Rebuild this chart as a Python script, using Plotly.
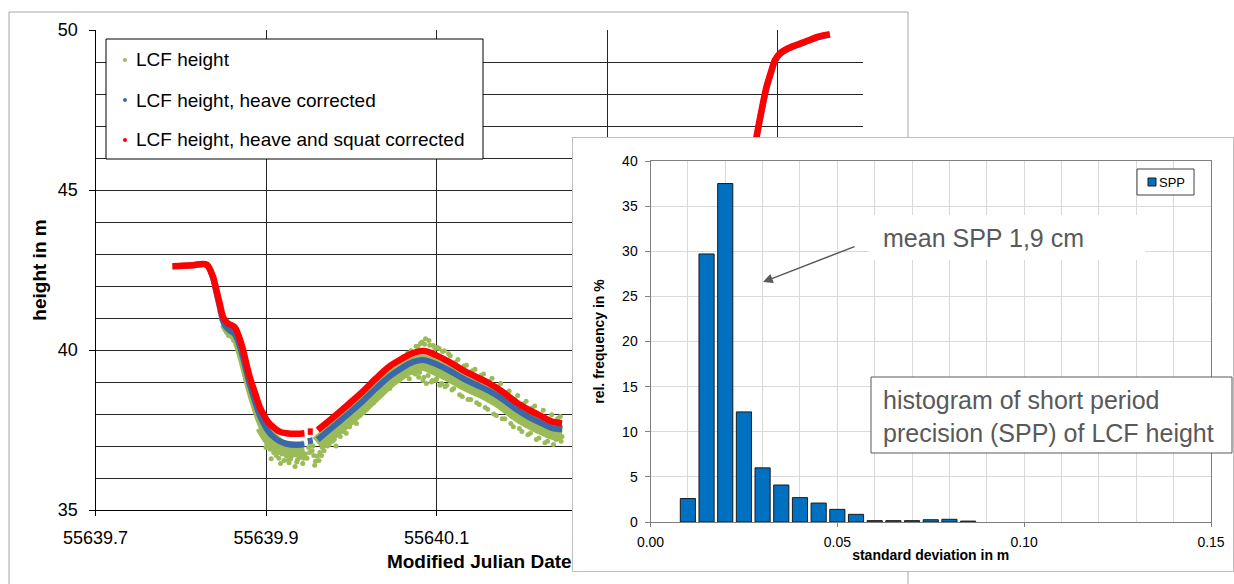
import plotly.graph_objects as go

FONT = "Arial, 'Liberation Sans', sans-serif"
W, H = 1234, 584

# ---------------- main chart data (Modified Julian Date / height in m) ----------------
mjd_corr = [55639.7903, 55639.8027, 55639.8144, 55639.8261, 55639.8308, 55639.8378, 55639.8417,
            55639.8456, 55639.8503, 55639.8554, 55639.8632, 55639.8682, 55639.8721, 55639.8768,
            55639.8807, 55639.8846, 55639.8885, 55639.8924, 55639.8963, 55639.9021, 55639.9080,
            55639.9158, 55639.9236, 55639.9353, 55639.9450, None, 55639.9489, 55639.9548, None,
            55639.9606, 55639.9704, 55639.9821, 55639.9977, 55640.0133, 55640.0289, 55640.0444,
            55640.0600, 55640.0717, 55640.0834, 55640.0892, 55640.0991, 55640.1146, 55640.1302,
            55640.1458, 55640.1614, 55640.1770, 55640.1926, 55640.2082, 55640.2237, 55640.2354,
            55640.2471, None, 55640.4700, 55640.4752, 55640.4811, 55640.4869, 55640.4928,
            55640.4967, 55640.5026, 55640.5123, 55640.5318, 55640.5474, 55640.5611]

h_heave_squat = [42.62, 42.63, 42.65, 42.69, 42.66, 42.29, 41.88, 41.46, 40.99, 40.83, 40.71, 40.42,
                 40.10, 39.58, 39.17, 38.85, 38.54, 38.23, 38.02, 37.76, 37.60, 37.45, 37.40, 37.38,
                 37.40, None, 37.45, 37.45, None, 37.50, 37.71, 37.97, 38.33, 38.70, 39.11, 39.48,
                 39.74, 39.90, 39.97, 39.95, 39.84, 39.63, 39.38, 39.17, 38.96, 38.70, 38.38, 38.13,
                 37.92, 37.76, 37.71, None, 45.90, 46.67, 47.50, 48.23, 48.75, 49.06, 49.27, 49.43,
                 49.63, 49.79, 49.87]

h_heave = [42.62, 42.63, 42.65, 42.69, 42.66, 42.25, 41.80, 41.35, 40.85, 40.65, 40.50, 40.20,
           39.85, 39.35, 38.95, 38.60, 38.28, 37.97, 37.75, 37.48, 37.30, 37.15, 37.07, 37.03,
           37.05, None, 37.15, 37.18, None, 37.20, 37.42, 37.68, 38.03, 38.40, 38.80, 39.17,
           39.45, 39.62, 39.69, 39.66, 39.56, 39.36, 39.12, 38.92, 38.72, 38.47, 38.16, 37.90,
           37.70, 37.56, 37.52, None, 45.85, 46.62, 47.45, 48.18, 48.70, 49.02, 49.24, 49.41,
           49.61, 49.77, 49.85]

# raw LCF height: dense core of the point cloud (descent, narrow)
mjd_raw_desc = [55639.8503, 55639.8554, 55639.8632, 55639.8682, 55639.8721, 55639.8768, 55639.8807,
                55639.8846, 55639.8885, 55639.8924, 55639.8963, 55639.9021]
h_raw_desc = [40.80, 40.58, 40.40, 40.05, 39.70, 39.20, 38.80, 38.45, 38.12, 37.82, 37.58, 37.30]

# raw LCF height: dense core of the point cloud (trough, rise, crest, fall)
mjd_raw_core = [55639.8963, 55639.9021, 55639.9080, 55639.9158, 55639.9236, 55639.9353,
                55639.9450, None, 55639.9606, 55639.9704, 55639.9821, 55639.9977, 55640.0133,
                55640.0289, 55640.0444, 55640.0600, 55640.0717, 55640.0834, 55640.0892,
                55640.0991, 55640.1146, 55640.1302, 55640.1458, 55640.1614, 55640.1770,
                55640.1926, 55640.2082, 55640.2237, 55640.2354, 55640.2471]
h_raw_core = [37.62, 37.36, 37.15, 36.99, 36.92, 36.90, 36.92, None, 37.07, 37.29, 37.55, 37.90,
              38.27, 38.67, 39.05, 39.35, 39.52, 39.60, 39.57, 39.45, 39.25, 39.02, 38.82, 38.62,
              38.37, 38.05, 37.79, 37.59, 37.45, 37.39]

# raw LCF height: scattered points of the cloud
mjd_raw_pts = [55639.8420, 55639.8460, 55639.8480, 55639.8510, 55639.8540, 55639.8570, 55639.8600,
               55639.8620, 55639.8650, 55639.8680, 55639.8700, 55639.8720, 55639.8745, 55639.8770,
               55639.8790, 55639.8810, 55639.8830, 55639.8500, 55639.8560, 55639.8660, 55639.8760,
               55639.8800, 55639.8850,
               55639.8950, 55639.8990, 55639.9010, 55639.9050, 55639.9090, 55639.9120, 55639.9150,
               55639.9190, 55639.9210, 55639.9240, 55639.9270, 55639.9290, 55639.9320, 55639.9340,
               55639.9370, 55639.9400, 55639.9420, 55639.9440, 55639.9460, 55639.9500, 55639.9520,
               55639.9540, 55639.9560, 55639.9580, 55639.9600, 55639.9630, 55639.9660, 55639.9690,
               55639.9720, 55639.9760, 55639.9800, 55639.9850, 55639.9880, 55639.9920, 55639.9960,
               55640.0000, 55640.0040, 55640.0080, 55640.0120, 55640.0160, 55640.0200, 55640.0240,
               55640.0280, 55640.0320, 55640.0360, 55640.0400, 55640.0450, 55640.0480, 55640.0520,
               55640.0560, 55640.0600, 55640.0650,
               55640.0700, 55640.0750, 55640.0780, 55640.0800, 55640.0830, 55640.0850, 55640.0870,
               55640.0900, 55640.0920, 55640.0950, 55640.0980, 55640.1000, 55640.1030, 55640.1060,
               55640.1090,
               55640.1120, 55640.1160, 55640.1200, 55640.1250, 55640.1300, 55640.1350, 55640.1400,
               55640.1450, 55640.1500, 55640.1550, 55640.1600, 55640.1650, 55640.1700, 55640.1750,
               55640.1800, 55640.1850, 55640.1900, 55640.1950, 55640.2000, 55640.2050, 55640.2100,
               55640.2150, 55640.2200, 55640.2250, 55640.2300, 55640.2350, 55640.2400, 55640.2450,
               55640.2470,
               55639.8980, 55639.9000, 55639.9030, 55639.9060, 55639.9100, 55639.9130, 55639.9170,
               55639.9200, 55639.9230, 55639.9260, 55639.9310, 55639.9360, 55639.9390, 55639.9430,
               55639.9480, 55639.9510, 55639.9550, 55639.9570, 55639.9620, 55639.9650, 55639.9680,
               55639.9700, 55639.9740, 55639.9780, 55639.9820, 55639.9870, 55639.9900, 55639.9940,
               55639.9980, 55640.0020, 55640.0060, 55640.0100, 55640.0140, 55640.0180, 55640.0220,
               55640.0260, 55640.0300, 55640.0340, 55640.0380, 55640.0420, 55640.0460, 55640.0500,
               55640.0540, 55640.0580, 55640.0620, 55640.0660, 55640.0680, 55640.0720, 55640.0760,
               55640.0790, 55640.0810, 55640.0840, 55640.0860, 55640.0880, 55640.0910, 55640.0940,
               55640.0960, 55640.0990, 55640.1010, 55640.1040, 55640.1070, 55640.1100, 55640.1140,
               55640.1180, 55640.1220, 55640.1270, 55640.1320, 55640.1370, 55640.1420, 55640.1470,
               55640.1520, 55640.1570, 55640.1620, 55640.1670, 55640.1720, 55640.1770, 55640.1820,
               55640.1870, 55640.1920, 55640.1970, 55640.2020, 55640.2070, 55640.2120, 55640.2170,
               55640.2220, 55640.2270, 55640.2320, 55640.2370, 55640.2420, 55640.2460]
h_raw_pts = [41.70, 41.20, 40.95, 40.70, 40.55, 40.50, 40.40, 40.30, 40.15, 39.95, 39.80, 39.60,
             39.35, 39.10, 38.95, 38.75, 38.60, 40.80, 40.45, 40.25, 39.25, 38.85, 38.35,
             37.40, 37.20, 37.05, 36.90, 36.80, 36.70, 36.62, 36.75, 36.55, 36.68, 36.48, 36.60,
             36.72, 36.36, 36.58, 36.65, 36.80, 36.62, 36.75, 36.95, 37.05, 36.85, 36.70, 36.52,
             36.68, 36.80, 36.95, 37.05, 37.00, 37.62, 37.20, 37.35, 37.95, 37.55, 37.70, 38.30,
             37.90, 38.05, 38.65, 38.25, 38.40, 38.95, 38.50, 38.75, 39.30, 38.85, 38.80, 39.55,
             39.10, 39.05, 39.75, 39.20,
             39.98, 39.25, 40.10, 39.30, 40.25, 39.15, 40.35, 39.20, 40.15, 39.05, 40.05, 39.10,
             40.05, 38.95, 39.98,
             38.90, 39.82, 38.80, 39.70, 38.55, 39.52, 38.45, 39.40, 38.30, 39.25, 38.15, 39.12,
             37.95, 38.95, 37.85, 38.72, 37.60, 38.58, 37.45, 38.40, 37.40, 38.25, 37.25, 38.12,
             37.15, 37.98, 37.20, 37.92, 37.30,
             37.30, 36.95, 37.15, 36.60, 37.00, 36.85, 36.45, 36.90, 36.80, 36.55, 36.85, 36.50,
             36.90, 36.45, 36.62, 36.80, 37.00, 36.40, 36.55, 36.70, 36.85, 37.25, 37.05, 37.15,
             37.00, 37.30, 37.45, 37.40, 37.60, 37.75, 37.70, 37.95, 38.05, 38.15, 38.30, 38.35,
             38.95, 38.60, 38.70, 39.45, 38.95, 39.00, 39.65, 39.15, 39.20, 39.90, 39.10, 39.30,
             40.12, 39.15, 40.20, 39.05, 40.18, 38.95, 40.30, 39.00, 40.14, 39.05, 40.08, 38.90,
             39.95, 38.85, 39.88, 38.75, 39.62, 38.60, 39.50, 38.45, 39.35, 38.35, 39.20, 38.20,
             39.02, 38.00, 38.85, 37.85, 38.66, 37.70, 38.45, 37.55, 38.32, 37.35, 38.18, 37.20,
             37.96, 37.10, 37.80, 37.05, 37.86, 37.15]

# ---------------- inset histogram data ----------------
spp_bins = [0.010, 0.015, 0.020, 0.025, 0.030, 0.035, 0.040, 0.045,
            0.050, 0.055, 0.060, 0.065, 0.070, 0.075, 0.080, 0.085]
spp_freq = [2.6, 29.7, 37.5, 12.2, 6.0, 4.1, 2.7, 2.1,
            1.4, 0.85, 0.15, 0.15, 0.15, 0.25, 0.3, 0.1]

GREEN, BLUE, RED, BAR = "#9BBB59", "#3B68A8", "#FF0000", "#0070C0"


def px(x):
    return x / W


def py(y):
    return 1 - y / H


fig = go.Figure()

# main chart traces
fig.add_trace(go.Scatter(x=mjd_raw_desc, y=h_raw_desc, mode="lines", name="LCF height",
                         line=dict(color=GREEN, width=8, shape="spline"), showlegend=False,
                         xaxis="x", yaxis="y"))
fig.add_trace(go.Scatter(x=mjd_raw_core, y=h_raw_core, mode="lines", name="LCF height",
                         line=dict(color=GREEN, width=16, shape="spline"), showlegend=False,
                         xaxis="x", yaxis="y"))
fig.add_trace(go.Scatter(x=mjd_raw_pts, y=h_raw_pts, mode="markers", name="LCF height",
                         marker=dict(color=GREEN, size=5), showlegend=False,
                         xaxis="x", yaxis="y"))
fig.add_trace(go.Scatter(x=mjd_corr, y=h_heave, mode="lines", name="LCF height, heave corrected",
                         line=dict(color=BLUE, width=6, shape="spline"), showlegend=False,
                         xaxis="x", yaxis="y"))
fig.add_trace(go.Scatter(x=mjd_corr, y=h_heave_squat, mode="lines",
                         name="LCF height, heave and squat corrected",
                         line=dict(color=RED, width=6.5, shape="spline"), showlegend=False,
                         xaxis="x", yaxis="y"))

# invisible subplot that carries the white inset panel
fig.add_trace(go.Scatter(x=[0.5], y=[0.5], mode="markers", marker=dict(opacity=0),
                         hoverinfo="skip", showlegend=False, xaxis="x2", yaxis="y2"))

# inset histogram
fig.add_trace(go.Bar(x=spp_bins, y=spp_freq, name="SPP", marker=dict(color=BAR,
                     line=dict(color="#1A1A1A", width=1)), showlegend=False,
                     xaxis="x3", yaxis="y3"))

GRID = "#262626"
fig.update_layout(
    width=W, height=H, margin=dict(l=0, r=0, t=0, b=0, autoexpand=False),
    paper_bgcolor="white", plot_bgcolor="white", showlegend=False,
    font=dict(family=FONT, color="black"), bargap=0.19,
    xaxis=dict(domain=[px(95.5), px(863)], range=[55639.7, 55640.6], tick0=55639.7, dtick=0.2,
               tickformat=".1f", showgrid=True, gridcolor=GRID, gridwidth=1, zeroline=False,
               showline=True, linecolor="black", linewidth=1, ticks="outside", ticklen=5,
               tickcolor="black", tickfont=dict(size=18), ticklabelstandoff=6, anchor="y",
               automargin=False,
               title=dict(text="Modified Julian Date", font=dict(size=19, weight="bold"),
                          standoff=8)),
    yaxis=dict(domain=[py(510), py(30)], range=[35, 50], tick0=35, dtick=5, showgrid=True,
               gridcolor=GRID, gridwidth=1, zeroline=False, showline=True, linecolor="black",
               linewidth=1, ticks="outside", ticklen=6, tickcolor="black",
               tickfont=dict(size=18), ticklabelstandoff=7, anchor="x", automargin=False,
               minor=dict(dtick=1, tick0=35, showgrid=True, gridcolor=GRID, gridwidth=1),
               title=dict(text="height in m", font=dict(size=19, weight="bold"), standoff=6)),
    xaxis2=dict(domain=[px(572), 1.0], range=[0, 1], visible=False, anchor="y2",
                automargin=False),
    yaxis2=dict(domain=[py(572), py(137)], range=[0, 1], visible=False, anchor="x2",
                automargin=False),
    xaxis3=dict(domain=[px(650.5), px(1211)], range=[0, 0.15], tick0=0, dtick=0.05,
                tickformat=".2f", showgrid=True, gridcolor="#D9D9D9", gridwidth=1,
                zeroline=False, showline=True, mirror=True, linecolor="#7F7F7F", linewidth=1,
                ticks="outside", ticklen=4, tickcolor="#7F7F7F", tickfont=dict(size=14),
                ticklabelstandoff=3,
                minor=dict(dtick=0.01, tick0=0, showgrid=True, gridcolor="#D9D9D9", gridwidth=1),
                anchor="y3", automargin=False,
                title=dict(text="standard deviation in m", font=dict(size=14, weight="bold"),
                           standoff=1)),
    yaxis3=dict(domain=[py(522), py(161)], range=[0, 40], tick0=0, dtick=5, showgrid=True,
                gridcolor="#D9D9D9", gridwidth=1, zeroline=False, showline=True, mirror=True,
                linecolor="#7F7F7F", linewidth=1, ticks="outside", ticklen=5,
                tickcolor="#7F7F7F", tickfont=dict(size=14), ticklabelstandoff=4, anchor="x3",
                automargin=False,
                title=dict(text="rel. frequency in %", font=dict(size=14, weight="bold"),
                           standoff=14)),
)

shapes = [
    # outer frame of the main chart
    dict(type="rect", xref="paper", yref="paper", x0=px(9), x1=px(908), y0=-0.1, y1=py(12),
         line=dict(color="#A6A6A6", width=1), fillcolor="rgba(0,0,0,0)", layer="below"),
    # white inset panel (covers the main chart)
    dict(type="rect", xref="x2", yref="y2", x0=0, x1=1, y0=0, y1=1,
         line=dict(color="#BFBFBF", width=2), fillcolor="white", layer="below"),
    # main legend box
    dict(type="rect", xref="paper", yref="paper", x0=px(106), x1=px(483), y0=py(159), y1=py(39),
         line=dict(color="black", width=1), fillcolor="white", layer="above"),
    # inset legend box
    dict(type="rect", xref="paper", yref="paper", x0=px(1137), x1=px(1194), y0=py(195), y1=py(169),
         line=dict(color="#404040", width=1), fillcolor="white", layer="above"),
    dict(type="rect", xref="paper", yref="paper", x0=px(1148), x1=px(1156), y0=py(186), y1=py(178),
         line=dict(color="#1A1A1A", width=1), fillcolor=BAR, layer="above"),
    # white box behind "mean SPP" text
    dict(type="rect", xref="paper", yref="paper", x0=px(869), x1=px(1145), y0=py(260), y1=py(215),
         line=dict(width=0), fillcolor="white", layer="above"),
    # bordered box behind the histogram caption
    dict(type="rect", xref="paper", yref="paper", x0=px(871), x1=px(1232), y0=py(453), y1=py(377),
         line=dict(color="#595959", width=1), fillcolor="white", layer="above"),
]
legend_names = ["LCF height", "LCF height, heave corrected", "LCF height, heave and squat corrected"]
legend_colors = [GREEN, BLUE, RED]
legend_rows = [60, 100, 140]
annotations = []
for name, col, row in zip(legend_names, legend_colors, legend_rows):
    shapes.append(dict(type="circle", xref="paper", yref="paper", x0=px(123), x1=px(127),
                       y0=py(row + 2), y1=py(row - 2), line=dict(width=0), fillcolor=col,
                       layer="above"))
    annotations.append(dict(text=name, xref="paper", yref="paper", x=px(134), y=py(row),
                            xanchor="left", yanchor="middle", showarrow=False,
                            font=dict(size=19, color="black")))

annotations += [
    dict(text="SPP", xref="paper", yref="paper", x=px(1157), y=py(182), xanchor="left",
         yanchor="middle", showarrow=False, font=dict(size=13, color="black")),
    dict(text="mean SPP 1,9 cm", xref="paper", yref="paper", x=px(881), y=py(238),
         xanchor="left", yanchor="middle", showarrow=False,
         font=dict(size=25, color="#595959")),
    dict(text="", xref="paper", yref="paper", x=px(763), y=py(282), ax=93, ay=-36,
         showarrow=True, arrowhead=2, arrowsize=1.3, arrowwidth=1.5, arrowcolor="#595959",
         standoff=0),
    dict(text="histogram of short period<br>precision (SPP) of LCF height", xref="paper",
         yref="paper", x=px(881), y=py(416), xanchor="left", yanchor="middle",
         align="left", showarrow=False, font=dict(size=25, color="#595959")),
]

fig.update_layout(shapes=shapes, annotations=annotations)
fig.write_html("out.html")
